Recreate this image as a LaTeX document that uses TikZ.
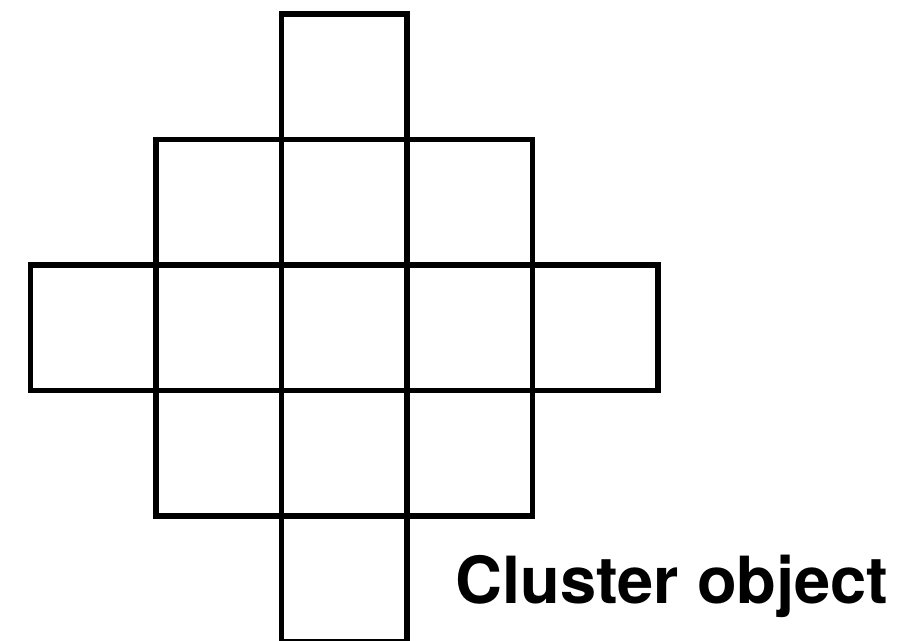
\documentclass[tikz,border=0pt]{standalone}
\usepackage{fontspec}
\usepackage{tikz}
\usetikzlibrary{positioning}
\newfontfamily\clusterfont{TeX Gyre Heros}

\begin{document}
\begin{tikzpicture}[x=0.02cm, y=-0.02cm,
    cell/.style={draw, rectangle, line width=3.2pt, inner sep=0pt, minimum size=2.51cm}]
    \useasboundingbox (0,0) rectangle (898,640);

    % Top row
    \node[cell] (c02) at (344.25,76.75) {};

    % Second row
    \node[cell] (c11) at (218.75,202.25) {};
    \node[cell] (c12) at (344.25,202.25) {};
    \node[cell] (c13) at (469.75,202.25) {};

    % Middle row (widest)
    \node[cell] (c20) at (93.25,327.75) {};
    \node[cell] (c21) at (218.75,327.75) {};
    \node[cell] (c22) at (344.25,327.75) {};
    \node[cell] (c23) at (469.75,327.75) {};
    \node[cell] (c24) at (595.25,327.75) {};

    % Fourth row
    \node[cell] (c31) at (218.75,453.25) {};
    \node[cell] (c32) at (344.25,453.25) {};
    \node[cell] (c33) at (469.75,453.25) {};

    % Bottom row
    \node[cell] (c42) at (344.25,578.75) {};

    % Caption
    \node[anchor=base west, inner sep=0pt, font=\clusterfont\bfseries\fontsize{37}{42}\selectfont] (caption) at (455,603) {Cluster object};

\end{tikzpicture}
\end{document}
